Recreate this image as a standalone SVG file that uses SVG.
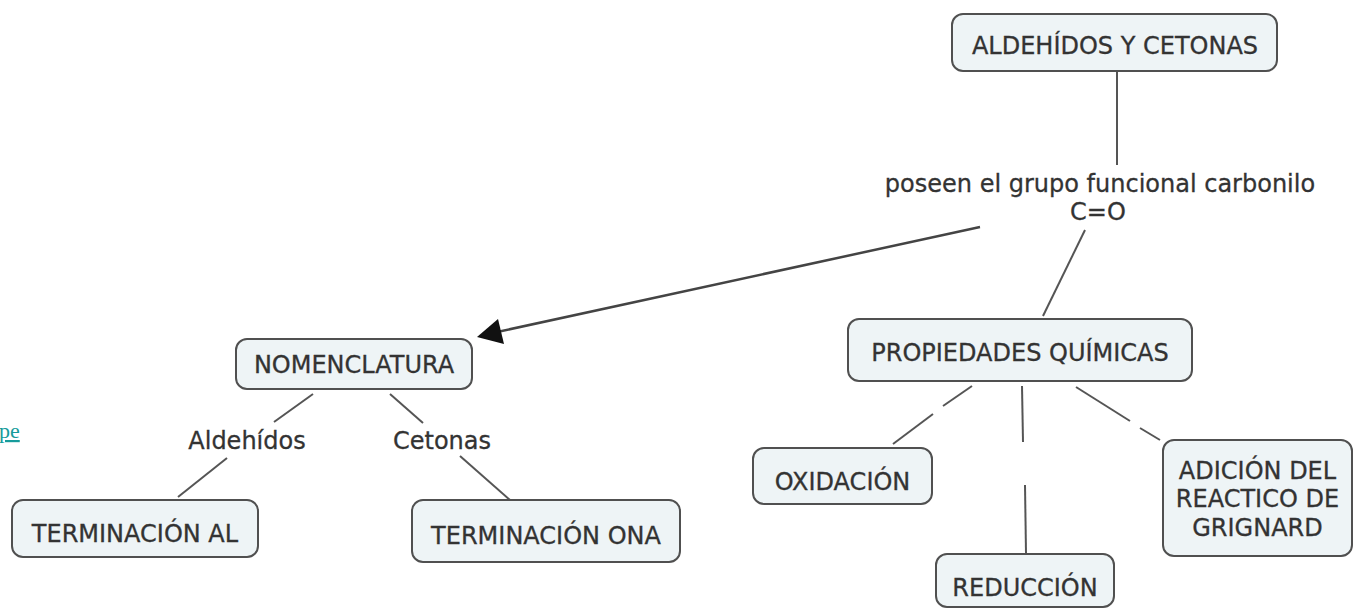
<svg xmlns="http://www.w3.org/2000/svg" width="1355" height="610" viewBox="0 0 1355 610">
<style>
.box{fill:#eef4f6;stroke:#505050;stroke-width:2}
.t{font-family:"DejaVu Sans",Verdana,sans-serif;font-size:24px;fill:#333;stroke:#333;stroke-width:0.3;text-anchor:middle}
.c{stroke:#555;stroke-width:2;fill:none}
</style>
<rect width="1355" height="610" fill="#fff"/>
<text x="-1" y="438" font-family="Liberation Serif,serif" font-size="22" fill="#169b9b" text-decoration="underline">pe</text>
<g id="connectors">
<line class="c" x1="1117" y1="72" x2="1117" y2="165"/>
<line x1="980" y1="227" x2="497" y2="332" stroke="#444" stroke-width="2.5"/>
<path d="M477,337 L498,319 L504,344 z" fill="#111"/>
<line class="c" x1="1085" y1="230" x2="1043" y2="316"/>
<line class="c" x1="313" y1="394" x2="274" y2="422"/>
<line class="c" x1="227" y1="458" x2="178" y2="497"/>
<line class="c" x1="390" y1="394" x2="423" y2="423"/>
<line class="c" x1="460" y1="456" x2="510" y2="500"/>
<line class="c" x1="972" y1="386" x2="943" y2="406"/>
<line class="c" x1="933" y1="414" x2="893" y2="444"/>
<line class="c" x1="1022" y1="386" x2="1023" y2="442"/>
<line class="c" x1="1025" y1="485" x2="1026" y2="553"/>
<line class="c" x1="1076" y1="387" x2="1130" y2="421"/>
<line class="c" x1="1140" y1="428" x2="1160" y2="440"/>
</g>
<g id="n-aldehidos-cetonas">
<rect class="box" x="952" y="14" width="325" height="57" rx="11"/>
<text class="t" x="1115" y="54">ALDEHÍDOS Y CETONAS</text>
</g>
<g id="l-poseen">
<text class="t" x="1100" y="192">poseen el grupo funcional carbonilo</text>
<text class="t" x="1098" y="220">C=O</text>
</g>
<g id="n-nomenclatura">
<rect class="box" x="236" y="339" width="236" height="50" rx="11"/>
<text class="t" x="354" y="373">NOMENCLATURA</text>
</g>
<g id="n-propiedades">
<rect class="box" x="848" y="319" width="344" height="62" rx="11"/>
<text class="t" x="1020" y="361">PROPIEDADES QUÍMICAS</text>
</g>
<g id="l-aldehidos"><text class="t" x="247" y="449">Aldehídos</text></g>
<g id="l-cetonas"><text class="t" x="442" y="449">Cetonas</text></g>
<g id="n-term-al">
<rect class="box" x="12" y="500" width="246" height="57" rx="11"/>
<text class="t" x="135" y="542">TERMINACIÓN AL</text>
</g>
<g id="n-term-ona">
<rect class="box" x="412" y="500" width="268" height="62" rx="11"/>
<text class="t" x="546" y="544">TERMINACIÓN ONA</text>
</g>
<g id="n-oxidacion">
<rect class="box" x="753" y="448" width="179" height="56" rx="11"/>
<text class="t" x="842.5" y="490">OXIDACIÓN</text>
</g>
<g id="n-reduccion">
<rect class="box" x="936" y="554" width="178" height="53" rx="11"/>
<text class="t" x="1025" y="596">REDUCCIÓN</text>
</g>
<g id="n-adicion">
<rect class="box" x="1163" y="440" width="189" height="116" rx="11"/>
<text class="t" x="1257.5" y="479">ADICIÓN DEL</text>
<text class="t" x="1257.5" y="507">REACTICO DE</text>
<text class="t" x="1257.5" y="536">GRIGNARD</text>
</g>
</svg>
